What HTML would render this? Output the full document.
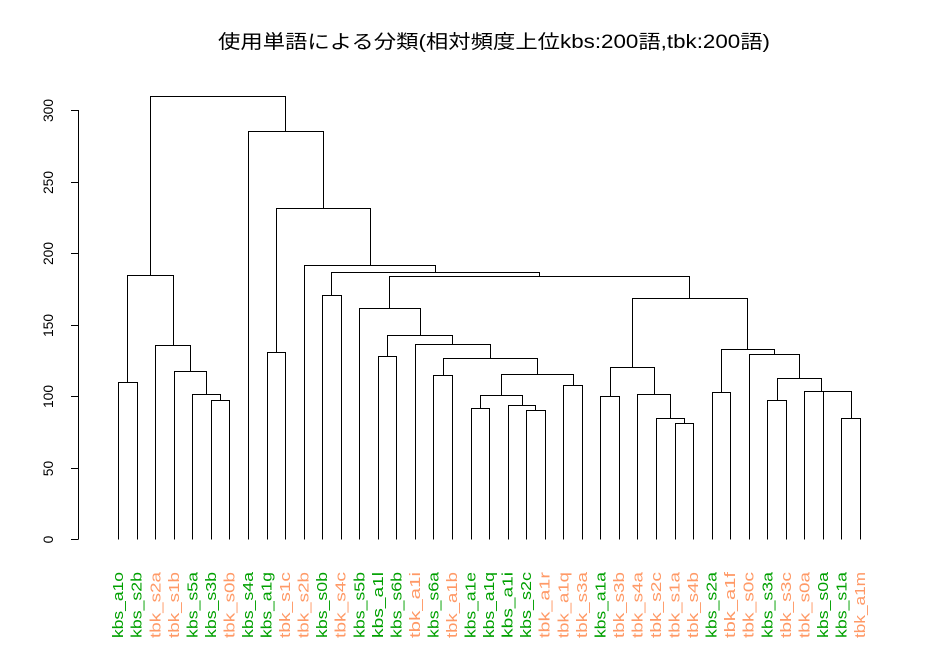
<!DOCTYPE html>
<html><head><meta charset="utf-8"><style>
html,body{margin:0;padding:0;background:#fff;}
svg{display:block;}
</style></head><body>
<svg id="chart" width="941" height="655" viewBox="0 0 941 655" xmlns="http://www.w3.org/2000/svg">
<rect width="941" height="655" fill="#fff"/>
<text x="494" y="48" text-anchor="middle" font-family="'Liberation Sans','Noto Sans CJK JP',sans-serif" font-size="19" textLength="552" lengthAdjust="spacingAndGlyphs" fill="#000">使用単語による分類(相対頻度上位kbs:200語,tbk:200語)</text>
<g id="axis"></g>
<g id="tree"></g>
<g id="labels"></g>
</svg>
<script>
const leafLabels = ["kbs_a1o","kbs_s2b","tbk_s2a","tbk_s1b","kbs_s5a","kbs_s3b","tbk_s0b","kbs_s4a","kbs_a1g","tbk_s1c","tbk_s2b","kbs_s0b","tbk_s4c","kbs_s5b","kbs_a1l","kbs_s6b","tbk_a1i","kbs_s6a","tbk_a1b","kbs_a1e","kbs_a1q","kbs_a1i","kbs_s2c","tbk_a1r","tbk_a1q","tbk_s3a","kbs_a1a","tbk_s3b","tbk_s4a","tbk_s2c","tbk_s1a","tbk_s4b","kbs_s2a","tbk_a1f","tbk_s0c","kbs_s3a","tbk_s3c","tbk_s0a","kbs_s0a","kbs_s1a","tbk_a1m"];
const mergeLeft = [-6,-5,-4,-3,-1,5,-9,-12,-15,-18,-20,-23,-22,11,-25,14,10,-17,9,-14,-27,-31,-30,-29,21,-33,-36,-40,-39,-38,27,-35,26,25,20,8,-11,7,-8,6];
const mergeRight = [-7,1,2,3,-2,4,-10,-13,-16,-19,-21,-24,12,13,-26,15,16,17,18,19,-28,-32,22,23,24,-34,-37,-41,28,29,30,31,32,33,34,35,36,37,38,39];
const mergeHeights = [97.1,101.3,117.4,135.6,109.7,184.7,130.7,170.5,127.9,114.6,91.8,90.1,93.6,100.6,107.6,115.3,126.5,136.3,142.6,161.4,99.9,81.1,84.8,101.3,120.2,102.7,97.1,84.6,103.4,103.5,112.9,129.3,132.8,168.4,183.8,186.6,191.7,231.5,285.6,309.6];
const yTicks = [0,50,100,150,200,250,300];

const NS = "http://www.w3.org/2000/svg";
function xLeaf(i){ return 118.2 + 18.545 * i; }
function yScale(h){ return 539.3 - 1.431 * h; }
function mk(tag, attrs, parent){
  const e = document.createElementNS(NS, tag);
  for (const k in attrs) e.setAttribute(k, attrs[k]);
  parent.appendChild(e); return e;
}
const axis = document.getElementById('axis');
const tree = document.getElementById('tree');
const labels = document.getElementById('labels');

const al = mk('line', {x1:78.5, x2:78.5, y1:yScale(yTicks[yTicks.length-1]), y2:yScale(yTicks[0]), stroke:'#000', 'stroke-width':1}, axis);


yTicks.forEach(t => {
  const y = Math.round(yScale(t)) + 0.5;
  const tk = mk('line', {x1:71, x2:78.5, y1:y, y2:y, stroke:'#000', 'stroke-width':1}, axis);
  
  
  const s = String(t);
  const tx = mk('text', {x:0, y:0, transform:`translate(53,${y}) rotate(-90)`, 'text-anchor':'middle', 'font-family':"'Liberation Sans',sans-serif", 'font-size':14, textLength: (s.length*7.7).toFixed(1), lengthAdjust:'spacingAndGlyphs', fill:'#000'}, axis);
  tx.textContent = s;
  
  
});

const nodeX = [], nodeH = [];
function pos(ref){
  if (ref < 0) return {x: xLeaf(-ref - 1), h: 0};
  return {x: nodeX[ref - 1], h: nodeH[ref - 1]};
}
for (let k = 0; k < mergeHeights.length; k++){
  const a = pos(mergeLeft[k]), b = pos(mergeRight[k]);
  const h = mergeHeights[k];
  const yy = Math.round(yScale(h)) + 0.5;
  const xa = Math.round(a.x) + 0.5, xb = Math.round(b.x) + 0.5;
  const ya = Math.round(yScale(a.h)) + 0.5, yb = Math.round(yScale(b.h)) + 0.5;
  const p = mk('path', {d:`M${xa},${ya}V${yy}H${xb}V${yb}`, fill:'none', stroke:'#000', 'stroke-width':1}, tree);
  
  
  nodeX.push((a.x + b.x) / 2);
  nodeH.push(h);
}

leafLabels.forEach((lab, i) => {
  const x = xLeaf(i) + 5;
  const t = mk('text', {x:0, y:0, transform:`translate(${x},572) rotate(-90)`, 'text-anchor':'end', 'font-family':"'Liberation Sans',sans-serif", 'font-size':15, textLength:66, lengthAdjust:'spacingAndGlyphs', fill: lab.startsWith('kbs') ? '#00a000' : '#ff9966'}, labels);
  t.textContent = lab;
  
  
});
</script>
</body></html>
